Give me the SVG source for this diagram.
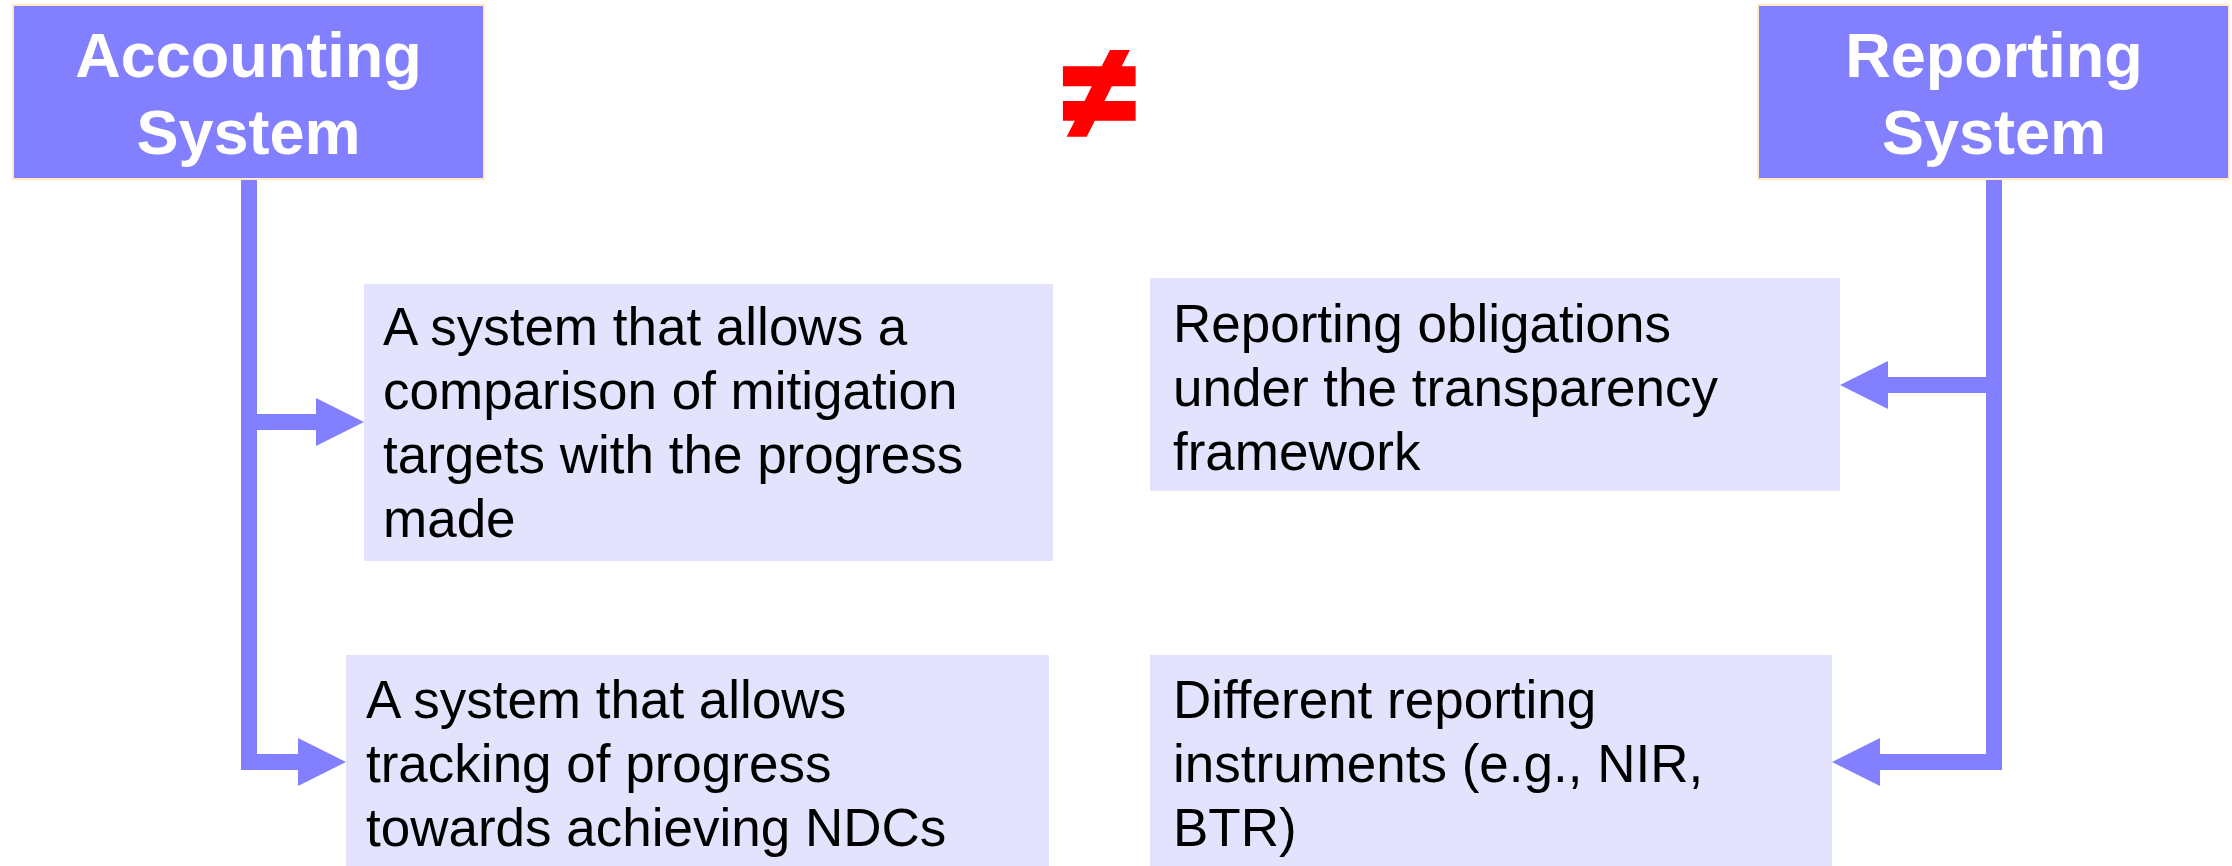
<svg xmlns="http://www.w3.org/2000/svg" width="2232" height="866" viewBox="0 0 2232 866">
  <style>
    .head { fill: #8380FF; stroke: #FFE9C8; stroke-width: 2; }
    .head-text { font-family: "Liberation Sans", Arial, sans-serif; font-weight: bold; font-size: 63px; fill: #FFFFFF; text-anchor: middle; }
    .item { fill: #E3E3FE; }
    .item-text { font-family: "Liberation Sans", Arial, sans-serif; font-size: 53px; fill: #000000; }
    .link { fill: none; stroke: #8380FF; stroke-width: 16; stroke-linejoin: miter; }
    .neq { font-family: "Liberation Sans", Arial, sans-serif; font-weight: bold; font-size: 128px; fill: #FF0000; stroke: #FF0000; stroke-width: 6; text-anchor: middle; }
  </style>
  <defs>
    <marker id="arrow" markerUnits="userSpaceOnUse" markerWidth="48" markerHeight="48" refX="0" refY="24" orient="auto" overflow="visible">
      <path d="M0,0 L48,24 L0,48 Z" fill="#8380FF"/>
    </marker>
  </defs>

  <rect width="2232" height="866" fill="#FFFFFF"/>

  <!-- connectors -->
  <g id="connectors">
    <path class="link" d="M249,179 V762 H298" marker-end="url(#arrow)"/>
    <path class="link" d="M249,422 H316" marker-end="url(#arrow)"/>
    <path class="link" d="M1994,179 V762 H1880" marker-end="url(#arrow)"/>
    <path class="link" d="M1994,385 H1888" marker-end="url(#arrow)"/>
  </g>

  <!-- headers -->
  <g id="accounting-system">
    <rect class="head" x="13" y="5" width="471" height="174"/>
    <text class="head-text" x="248.5" y="77">Accounting</text>
    <text class="head-text" x="248.5" y="154">System</text>
  </g>

  <g id="reporting-system">
    <rect class="head" x="1758" y="5" width="471" height="174"/>
    <text class="head-text" x="1994" y="77">Reporting</text>
    <text class="head-text" x="1994" y="154">System</text>
  </g>

  <g id="not-equal">
    <text class="neq" x="1099" y="136">≠</text>
  </g>

  <!-- accounting items -->
  <g id="comparison">
    <rect class="item" x="364" y="284" width="689" height="277"/>
    <text class="item-text" x="383" y="345">A system that allows a</text>
    <text class="item-text" x="383" y="409">comparison of mitigation</text>
    <text class="item-text" x="383" y="473">targets with the progress</text>
    <text class="item-text" x="383" y="537">made</text>
  </g>

  <g id="tracking">
    <rect class="item" x="346" y="655" width="703" height="211"/>
    <text class="item-text" x="366" y="718">A system that allows</text>
    <text class="item-text" x="366" y="782">tracking of progress</text>
    <text class="item-text" x="366" y="846">towards achieving NDCs</text>
  </g>

  <!-- reporting items -->
  <g id="obligations">
    <rect class="item" x="1150" y="278" width="690" height="213"/>
    <text class="item-text" x="1173" y="342">Reporting obligations</text>
    <text class="item-text" x="1173" y="406">under the transparency</text>
    <text class="item-text" x="1173" y="470">framework</text>
  </g>

  <g id="instruments">
    <rect class="item" x="1150" y="655" width="682" height="211"/>
    <text class="item-text" x="1173" y="718">Different reporting</text>
    <text class="item-text" x="1173" y="782">instruments (e.g., NIR,</text>
    <text class="item-text" x="1173" y="846">BTR)</text>
  </g>
</svg>
